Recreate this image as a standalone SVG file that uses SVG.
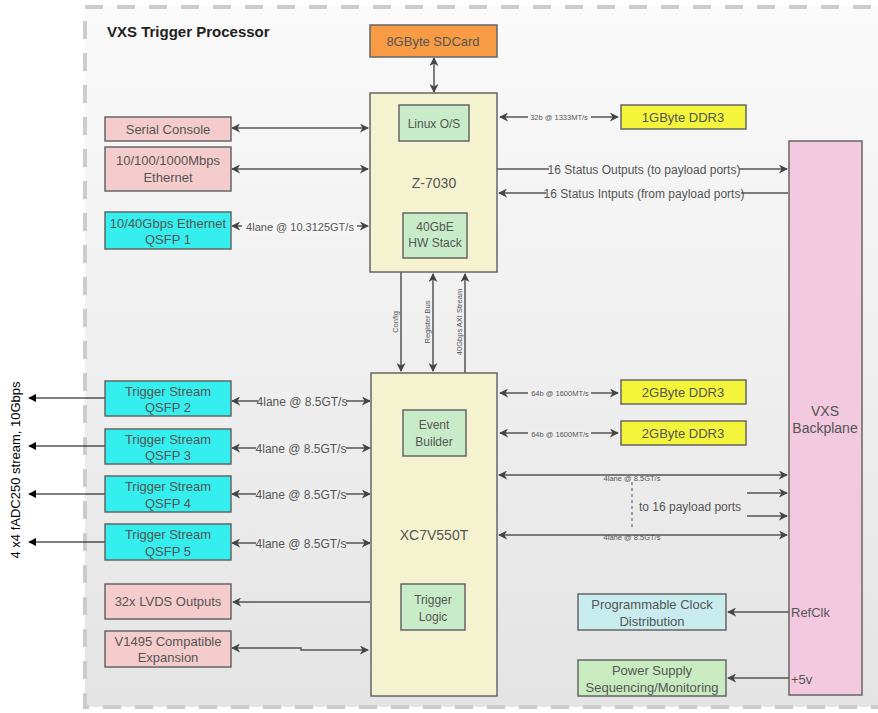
<svg xmlns="http://www.w3.org/2000/svg" width="878" height="713" viewBox="0 0 878 713">
<defs>
<linearGradient id="bg" x1="0" y1="0" x2="0" y2="1">
<stop offset="0" stop-color="#fafafa"/>
<stop offset="1" stop-color="#e4e4e4"/>
</linearGradient>
<marker id="ah" viewBox="0 0 10 10" refX="9" refY="5" markerWidth="9" markerHeight="9" markerUnits="userSpaceOnUse" orient="auto-start-reverse">
<path d="M0,0 L10,5 L0,10 L3,5 z" fill="#444"/>
</marker>
<marker id="bk" viewBox="0 0 10 10" refX="9" refY="5" markerWidth="8" markerHeight="8" markerUnits="userSpaceOnUse" orient="auto-start-reverse">
<path d="M0,0 L10,5 L0,10 z" fill="#000"/>
</marker>
</defs>
<style>
.box{stroke:#666;stroke-width:1.5}
.t{font-family:"Liberation Sans",Arial,sans-serif;font-size:13px;fill:#555;text-anchor:middle}
.s{font-family:"Liberation Sans",Arial,sans-serif;font-size:12px;fill:#555;text-anchor:middle}
.xs{font-family:"Liberation Sans",Arial,sans-serif;font-size:7.5px;fill:#555;text-anchor:middle}
.ln{stroke:#555;stroke-width:1.5;fill:none}
.pink{fill:#f5cccc}
.cyan{fill:#35eeee}
.yel{fill:#f4f43a}
.grn{fill:#c8ecc8}
.chip{fill:#f4f2cf}
</style>
<rect x="0" y="0" width="878" height="713" fill="#ffffff"/>
<rect x="85" y="7" width="820" height="700" fill="url(#bg)" stroke="#cccccc" stroke-width="4" stroke-dasharray="18 14"/>
<text x="107" y="37" font-family="Liberation Sans,Arial,sans-serif" font-size="15" font-weight="bold" fill="#222">VXS Trigger Processor</text>

<g id="connectors">
<line class="ln" x1="434" y1="58" x2="434" y2="92" marker-start="url(#ah)" marker-end="url(#ah)"/>
<line class="ln" x1="232" y1="128" x2="368" y2="128" marker-start="url(#ah)" marker-end="url(#ah)"/>
<line class="ln" x1="232" y1="169" x2="368" y2="169" marker-start="url(#ah)" marker-end="url(#ah)"/>
<line class="ln" x1="232" y1="226" x2="368" y2="226" marker-start="url(#ah)" marker-end="url(#ah)"/>
<rect x="242" y="219" width="115" height="14" fill="#f5f5f5"/>
<text class="s" x="300" y="230.5" style="font-size:11px">4lane @ 10.3125GT/s</text>
<line class="ln" x1="500" y1="117" x2="618" y2="117" marker-start="url(#ah)" marker-end="url(#ah)"/>
<rect x="528" y="113" width="63" height="8" fill="#f5f5f5"/>
<text class="xs" x="559" y="120">32b @ 1333MT/s</text>
<line class="ln" x1="497" y1="169" x2="787" y2="169" marker-end="url(#ah)"/>
<rect x="549" y="162" width="190" height="14" fill="#f4f4f4"/>
<text class="s" x="644" y="173.5">16 Status Outputs (to payload ports)</text>
<line class="ln" x1="788" y1="193" x2="499" y2="193" marker-end="url(#ah)"/>
<rect x="546" y="186" width="195" height="14" fill="#f3f3f3"/>
<text class="s" x="644" y="197.5">16 Status Intputs (from payload ports)</text>

<line class="ln" x1="401" y1="272" x2="401" y2="371" marker-end="url(#ah)"/>
<line class="ln" x1="433" y1="274" x2="433" y2="371" marker-start="url(#ah)" marker-end="url(#ah)"/>
<line class="ln" x1="465" y1="373" x2="465" y2="274" marker-end="url(#ah)"/>
<text class="xs" transform="translate(398,322) rotate(-90)" y="0">Config</text>
<text class="xs" transform="translate(430,322) rotate(-90)">Register Bus</text>
<text class="xs" transform="translate(462,322) rotate(-90)">40Gbps AXI Stream</text>

<line class="ln" x1="232" y1="401" x2="370" y2="401" marker-start="url(#ah)" marker-end="url(#ah)"/>
<line class="ln" x1="232" y1="448" x2="370" y2="448" marker-start="url(#ah)" marker-end="url(#ah)"/>
<line class="ln" x1="232" y1="494" x2="370" y2="494" marker-start="url(#ah)" marker-end="url(#ah)"/>
<line class="ln" x1="232" y1="543" x2="370" y2="543" marker-start="url(#ah)" marker-end="url(#ah)"/>
<rect x="258" y="394" width="88" height="14" fill="#efefef"/>
<rect x="256" y="441" width="90" height="14" fill="#eeeeee"/>
<rect x="256" y="487" width="90" height="14" fill="#ededed"/>
<rect x="256" y="536" width="90" height="14" fill="#ececec"/>
<text class="s" x="302" y="405.5">4lane @ 8.5GT/s</text>
<text class="s" x="301" y="452.5">4lane @ 8.5GT/s</text>
<text class="s" x="301" y="498.5">4lane @ 8.5GT/s</text>
<text class="s" x="301" y="547.5">4lane @ 8.5GT/s</text>

<line x1="105" y1="398" x2="29" y2="398" stroke="#000" stroke-width="1" marker-end="url(#bk)"/>
<line x1="105" y1="446" x2="29" y2="446" stroke="#000" stroke-width="1" marker-end="url(#bk)"/>
<line x1="105" y1="494" x2="29" y2="494" stroke="#000" stroke-width="1" marker-end="url(#bk)"/>
<line x1="105" y1="542" x2="29" y2="542" stroke="#000" stroke-width="1" marker-end="url(#bk)"/>

<line class="ln" x1="500" y1="393" x2="618" y2="393" marker-start="url(#ah)" marker-end="url(#ah)"/>
<line class="ln" x1="500" y1="433" x2="618" y2="433" marker-start="url(#ah)" marker-end="url(#ah)"/>
<rect x="528" y="389" width="63" height="8" fill="#efefef"/>
<rect x="528" y="430" width="63" height="8" fill="#eeeeee"/>
<text class="xs" x="560" y="396">64b @ 1600MT/s</text>
<text class="xs" x="560" y="437">64b @ 1600MT/s</text>

<line class="ln" x1="499" y1="475" x2="787" y2="475" marker-start="url(#ah)" marker-end="url(#ah)"/>
<line class="ln" x1="499" y1="535" x2="787" y2="535" marker-start="url(#ah)" marker-end="url(#ah)"/>
<text class="xs" x="632" y="481">4lane @ 8.5GT/s</text>
<text class="xs" x="632" y="540">4lane @ 8.5GT/s</text>
<line x1="632" y1="482" x2="632" y2="530" stroke="#555" stroke-width="1" stroke-dasharray="3 3"/>
<text class="s" x="639" y="511" style="text-anchor:start">to 16 payload ports</text>
<line class="ln" x1="747" y1="493" x2="787" y2="493" marker-end="url(#ah)"/>
<line class="ln" x1="747" y1="516" x2="787" y2="516" marker-end="url(#ah)"/>

<line class="ln" x1="370" y1="602" x2="233" y2="602" marker-end="url(#ah)"/>
<polyline class="ln" points="232,648 301,648 301,650 368,650" marker-start="url(#ah)" marker-end="url(#ah)"/>

<line class="ln" x1="789" y1="612" x2="728" y2="612" marker-end="url(#ah)"/>
<line class="ln" x1="789" y1="678" x2="728" y2="678" marker-end="url(#ah)"/>
</g>

<g id="sdcard"><rect class="box" x="370" y="25" width="127" height="32" fill="#f79c45"/><text class="t" x="433" y="46">8GByte SDCard</text></g>
<g id="z7030"><rect class="box chip" x="370" y="93" width="127" height="179"/><text class="t" x="434" y="188" style="font-size:14px">Z-7030</text></g>
<g id="linux"><rect class="box grn" x="399" y="105" width="70" height="36"/><text class="s" x="434" y="127.5">Linux O/S</text></g>
<g id="hwstack"><rect class="box grn" x="403" y="213" width="64" height="45"/><text class="s" x="435" y="231">40GbE</text><text class="s" x="435" y="247">HW Stack</text></g>
<g id="serial"><rect class="box pink" x="105" y="117" width="126" height="24"/><text class="t" x="168" y="134">Serial Console</text></g>
<g id="ethernet"><rect class="box pink" x="105" y="147" width="126" height="44"/><text class="t" x="168" y="165">10/100/1000Mbps</text><text class="t" x="168" y="182">Ethernet</text></g>
<g id="qsfp1"><rect class="box cyan" x="105" y="212" width="126" height="37"/><text class="t" x="168" y="228" fill="#444">10/40Gbps Ethernet</text><text class="t" x="168" y="244">QSFP 1</text></g>
<g id="ddr1"><rect class="box yel" x="621" y="105" width="125" height="24"/><text class="t" x="683" y="122">1GByte DDR3</text></g>
<g id="vxs"><rect class="box" x="789" y="141" width="73" height="554" fill="#f2c9de"/><text class="t" x="825" y="416" style="font-size:14px">VXS</text><text class="t" x="825" y="433" style="font-size:14px">Backplane</text><text class="t" x="791" y="617" style="text-anchor:start">RefClk</text><text class="t" x="791" y="684" style="text-anchor:start">+5v</text></g>
<g id="xc7v"><rect class="box chip" x="371" y="373" width="126" height="323"/><text class="t" x="434" y="540" style="font-size:14px">XC7V550T</text></g>
<g id="eventbuilder"><rect class="box grn" x="403" y="410" width="63" height="46"/><text class="s" x="434" y="429">Event</text><text class="s" x="434" y="446">Builder</text></g>
<g id="triggerlogic"><rect class="box grn" x="401" y="584" width="64" height="46"/><text class="s" x="433" y="604">Trigger</text><text class="s" x="433" y="621">Logic</text></g>
<g id="qsfp2"><rect class="box cyan" x="105" y="381" width="126" height="35"/><text class="t" x="168" y="396">Trigger Stream</text><text class="t" x="168" y="412">QSFP 2</text></g>
<g id="qsfp3"><rect class="box cyan" x="105" y="429" width="126" height="35"/><text class="t" x="168" y="444">Trigger Stream</text><text class="t" x="168" y="460">QSFP 3</text></g>
<g id="qsfp4"><rect class="box cyan" x="105" y="476" width="126" height="36"/><text class="t" x="168" y="491">Trigger Stream</text><text class="t" x="168" y="508">QSFP 4</text></g>
<g id="qsfp5"><rect class="box cyan" x="105" y="524" width="126" height="36"/><text class="t" x="168" y="539">Trigger Stream</text><text class="t" x="168" y="556">QSFP 5</text></g>
<g id="ddr2a"><rect class="box yel" x="621" y="380" width="125" height="24"/><text class="t" x="683" y="397">2GByte DDR3</text></g>
<g id="ddr2b"><rect class="box yel" x="621" y="421" width="125" height="24"/><text class="t" x="683" y="438">2GByte DDR3</text></g>
<g id="lvds"><rect class="box pink" x="105" y="584" width="126" height="35"/><text class="t" x="168" y="606">32x LVDS Outputs</text></g>
<g id="v1495"><rect class="box pink" x="105" y="631" width="126" height="36"/><text class="t" x="168" y="646">V1495 Compatible</text><text class="t" x="168" y="662">Expansion</text></g>
<g id="clock"><rect class="box" x="578" y="594" width="148" height="36" fill="#c8ecee"/><text class="t" x="652" y="609">Programmable Clock</text><text class="t" x="652" y="626">Distribution</text></g>
<g id="power"><rect class="box" x="578" y="660" width="148" height="36" fill="#c8ecc0"/><text class="t" x="652" y="675">Power Supply</text><text class="t" x="652" y="692">Sequencing/Monitoring</text></g>
<g id="stream-label"><text transform="translate(20,470) rotate(-90)" font-family="Liberation Sans,Arial,sans-serif" font-size="13" fill="#000" text-anchor="middle">4 x4 fADC250 stream, 10Gbps</text></g>
</svg>
